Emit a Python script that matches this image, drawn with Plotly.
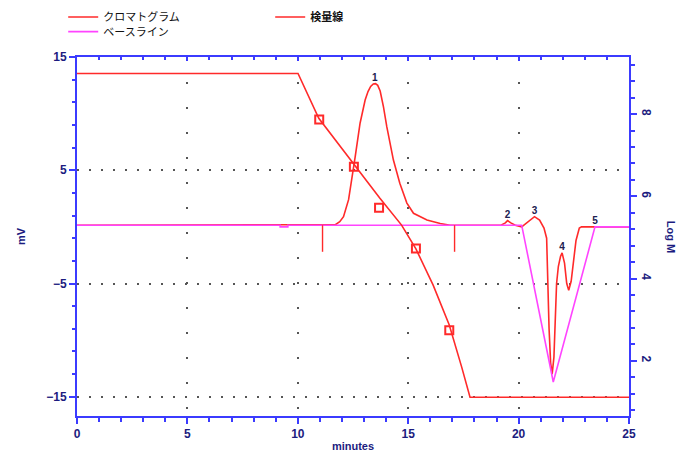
import plotly.graph_objects as go

# ---- data ----
# chromatogram (minutes, mV)
chrom_t = [0, 11.5, 11.7, 11.9, 12.07, 12.3, 12.45, 12.6, 12.82, 13.05, 13.18,
           13.3, 13.42, 13.52, 13.62, 13.73, 13.88, 14.03, 14.33, 14.62, 14.94,
           15.24, 15.85, 16.45, 16.9,
           19.2, 19.4, 19.5, 19.65, 19.85, 20.14, 20.45, 20.72, 20.95, 21.15,
           21.27, 21.32, 21.38, 21.45, 21.52, 21.6, 21.66, 21.72, 21.8, 21.9,
           21.97, 22.08, 22.18, 22.27, 22.38, 22.5, 22.6, 22.75, 22.85, 25]
chrom_mv = [0.15, 0.15, 0.2, 0.45, 0.9, 2.4, 4.15, 6.2, 9.15, 11.2, 11.95,
            12.4, 12.62, 12.65, 12.5, 12.0, 10.6, 8.85, 5.9, 3.85, 2.1,
            1.2, 0.6, 0.3, 0.15,
            0.15, 0.35, 0.55, 0.35, 0.15, 0.0, 0.5, 0.9, 0.6, -0.1,
            -1.0, -5.0, -9.0, -12.0, -13.0, -11.5, -8.0, -5.0, -3.5, -2.6,
            -2.3, -3.2, -5.0, -5.6, -4.8, -3.0, -1.2, -0.1, 0.0, 0.0]

# baseline (minutes, mV)
base_t = [0, 9.2, 9.2, 9.55, 9.55, 20.14, 21.57, 23.46, 25]
base_mv = [0.15, 0.15, 0.0, 0.0, 0.15, 0.15, -13.7, 0.0, 0.0]

# peak start / end marks (minutes) and their extent (mV)
mark_t = [11.12, 17.1]
mark_top = 0.15
mark_bottom = -2.2

# peak numbers
peak_t = [13.49, 19.5, 20.72, 21.97, 23.46]
peak_mv = [12.7, 0.55, 0.9, -2.3, 0.0]
peak_labels = ["1", "2", "3", "4", "5"]

# calibration curve (minutes, Log M)
calib_t = [0, 10.01, 10.95, 11.77, 12.54, 13.71, 14.70, 15.35, 16.13, 16.86,
           17.42, 17.80, 25]
calib_logm = [8.99, 8.99, 7.90, 7.32, 6.76, 5.96, 5.30, 4.72, 3.84, 2.87,
              1.85, 1.11, 1.11]
# calibration standards
std_t = [10.97, 12.54, 13.68, 15.35, 16.86]
std_logm = [7.87, 6.72, 5.72, 4.73, 2.74]

x_ticks = [0, 5, 10, 15, 20, 25]
y_ticks = [-15, -5, 5, 15]
y2_ticks = [2, 4, 6, 8]

RED = "#ff2a2a"
MAG = "#ff44ff"
AXIS = "#3b3bff"
NAVY = "#1c1c80"
TICKFONT = dict(family="Liberation Sans Narrow, Liberation Sans, Arial", size=12,
                color=NAVY, weight="bold")
LEGFONT = dict(family="Noto Sans CJK JP", size=11, color="#111111")

fig = go.Figure()

fig.add_trace(go.Scatter(x=chrom_t, y=chrom_mv, mode="lines", name="クロマトグラム",
                         line=dict(color=RED, width=1.6), legend="legend"))
fig.add_trace(go.Scatter(x=base_t, y=base_mv, mode="lines", name="ベースライン",
                         line=dict(color=MAG, width=1.6), legend="legend3"))
# peak marks
mx, my = [], []
for t in mark_t:
    mx += [t, t, None]
    my += [mark_top, mark_bottom, None]
fig.add_trace(go.Scatter(x=mx, y=my, mode="lines", showlegend=False,
                         line=dict(color=RED, width=1.4)))
# peak numbers
fig.add_trace(go.Scatter(x=peak_t, y=peak_mv, mode="text", text=peak_labels,
                         textposition="top center", showlegend=False,
                         textfont=dict(family="Liberation Sans", size=10,
                                       color="#202050", weight="bold")))
# calibration
fig.add_trace(go.Scatter(x=calib_t, y=calib_logm, mode="lines", name="検量線",
                         yaxis="y2", line=dict(color=RED, width=1.6),
                         legend="legend2"))
fig.add_trace(go.Scatter(x=std_t, y=std_logm, mode="markers", yaxis="y2",
                         showlegend=False,
                         marker=dict(symbol="square-open", size=8, color=RED,
                                     line=dict(width=2, color=RED))))
# top axis carrier (empty)
fig.add_trace(go.Scatter(x=[], y=[], xaxis="x2", showlegend=False))

fig.update_layout(
    width=688, height=452,
    margin=dict(l=77, r=59, t=57, b=36, autoexpand=False),
    paper_bgcolor="white", plot_bgcolor="white",
    xaxis=dict(range=[0, 25], tickvals=x_ticks, ticks="outside", ticklen=6,
               tickwidth=1.5, tickcolor=AXIS, showline=True, linecolor=AXIS,
               linewidth=2, tickfont=TICKFONT,
               minor=dict(dtick=1, ticks="outside", ticklen=4, tickcolor=AXIS,
                          tickwidth=1.5, showgrid=False),
               showgrid=True, gridcolor="#555555", gridwidth=1.5,
               griddash="2px,23px", zeroline=False,
               title=dict(text="minutes", standoff=3,
                          font=dict(family="Liberation Sans", size=11,
                                    color=NAVY, weight="bold"))),
    xaxis2=dict(range=[0, 25], overlaying="x", side="top", tickvals=x_ticks,
                ticks="inside", ticklen=4, tickcolor=AXIS, tickwidth=1.5,
                showline=True, linecolor=AXIS, linewidth=2,
                showticklabels=False, showgrid=False, zeroline=False,
                minor=dict(dtick=1, ticks="inside", ticklen=3, tickcolor=AXIS,
                           tickwidth=1.5)),
    yaxis=dict(range=[-16.7, 15], tickvals=y_ticks, ticks="outside", ticklen=6,
               tickwidth=1.5, tickcolor=AXIS, showline=True, linecolor=AXIS,
               linewidth=2, tickfont=TICKFONT,
               minor=dict(tick0=-15, dtick=2, ticks="outside", ticklen=3,
                          tickcolor=AXIS, tickwidth=1.5, showgrid=False),
               showgrid=True, gridcolor="#555555", gridwidth=1.5,
               griddash="2px,10px", zeroline=False,
               title=dict(text="mV", standoff=18,
                          font=dict(family="Liberation Sans", size=11,
                                    color=NAVY, weight="bold"))),
    yaxis2=dict(range=[0.655, 9.39], overlaying="y", side="right",
                tickvals=y2_ticks, ticks="outside", ticklen=6, tickwidth=1.5,
                tickcolor=AXIS, showline=True, linecolor=AXIS, linewidth=2,
                tickangle=90, tickfont=TICKFONT,
                minor=dict(tick0=0, dtick=0.4, ticks="outside", ticklen=4,
                           tickcolor=AXIS, tickwidth=1.5),
                showgrid=False, zeroline=False),
    legend=dict(x=-0.025, y=1.152, xanchor="left", yanchor="top",
                bgcolor="rgba(0,0,0,0)", itemwidth=30, font=LEGFONT),
    legend3=dict(x=-0.025, y=1.111, xanchor="left", yanchor="top",
                 bgcolor="rgba(0,0,0,0)", itemwidth=30, font=LEGFONT),
    legend2=dict(x=0.35, y=1.152, xanchor="left", yanchor="top",
                 bgcolor="rgba(0,0,0,0)", itemwidth=30,
                 font=dict(LEGFONT, weight="bold")),
    annotations=[dict(text="Log M", x=1.092, y=0.5, xref="paper", yref="paper",
                      showarrow=False, textangle=90,
                      font=dict(family="Liberation Sans", size=11, color=NAVY,
                                weight="bold"))],
)

fig.write_html("out.html", config={"displayModeBar": False},
               post_script="document.body.style.margin='0';"
                           "document.body.style.overflow='hidden';")
